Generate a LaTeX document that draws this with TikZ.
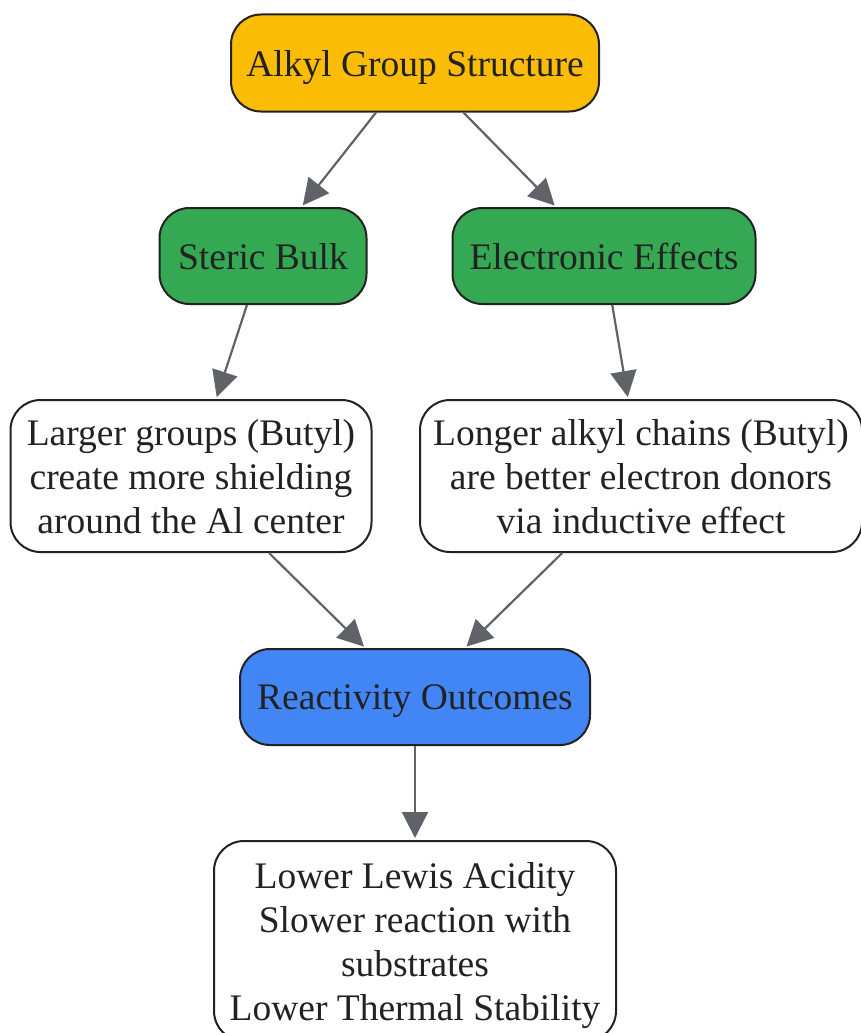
\documentclass[tikz,border=0pt]{standalone}
\usepackage{fontspec}
\setmainfont{Liberation Serif}
\usetikzlibrary{arrows.meta}

\definecolor{inkdark}{HTML}{222222}
\definecolor{edgegray}{HTML}{5F6368}
\definecolor{fillorange}{HTML}{FBBC05}
\definecolor{fillgreen}{HTML}{34A853}
\definecolor{fillblue}{HTML}{4285F4}

\tikzset{
  box/.style={draw=inkdark,line width=2pt,rounded corners=30pt,align=center,
    text=inkdark,inner sep=0pt,text depth=0pt,font=\fontsize{37.5}{44}\selectfont},
  flow/.style={-{Triangle[length=26pt,width=26pt]},line width=2.2pt,draw=edgegray,
    shorten >=2pt}
}

\begin{document}
\begin{tikzpicture}[x=1pt,y=-1pt]
  \useasboundingbox (0,0) rectangle (861,1033);
  % top level
  \node[box,fill=fillorange,minimum width=368pt,minimum height=97pt] (alkyl) at (415,63) {Alkyl Group Structure};
  % the two factors
  \node[box,fill=fillgreen,minimum width=207pt,minimum height=96pt] (steric) at (263,256) {Steric Bulk};
  \node[box,fill=fillgreen,minimum width=303pt,minimum height=96pt] (electronic) at (604,256) {Electronic Effects};
  % explanations
  \node[box,fill=white,minimum width=361pt,minimum height=152pt] (larger) at (191,476) {Larger groups (Butyl)\\create more shielding\\around the Al center};
  \node[box,fill=white,minimum width=442pt,minimum height=152pt] (longer) at (641,476) {Longer alkyl chains (Butyl)\\are better electron donors\\via inductive effect};
  % outcome
  \node[box,fill=fillblue,minimum width=350pt,minimum height=96pt] (reactivity) at (415,697) {Reactivity Outcomes};
  \node[box,fill=white,minimum width=402pt,minimum height=200pt] (results) at (415,941) {Lower Lewis Acidity\\Slower reaction with\\substrates\\Lower Thermal Stability};
  % connectors
  \draw[flow] (alkyl) -- (steric);
  \draw[flow] (alkyl) -- (electronic);
  \draw[flow] (steric) -- (larger);
  \draw[flow] (electronic) -- (longer);
  \draw[flow] (larger) -- (reactivity);
  \draw[flow] (longer) -- (reactivity);
  \draw[flow] (reactivity) -- (results);
\end{tikzpicture}
\end{document}
